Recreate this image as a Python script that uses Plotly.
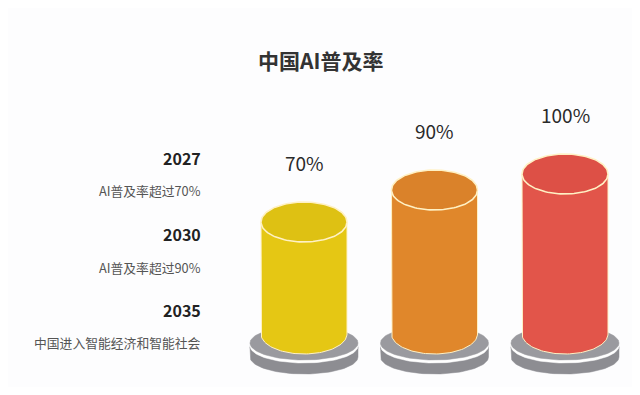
import numpy as np
import plotly.graph_objects as go

# ---- data ----
title = "中国AI普及率"
categories = ["2027", "2030", "2035"]
values = [70, 90, 100]
value_labels = ["70%", "90%", "100%"]
milestone_years = ["2027", "2030", "2035"]
milestone_texts = ["AI普及率超过70%", "AI普及率超过90%", "中国进入智能经济和智能社会"]

body_colors = ["#e5c714", "#e0872b", "#e2554a"]
top_colors = ["#dec113", "#da822a", "#dd5046"]
rim_color = "#fff1c4"

# ---- layout (page has an 8px body margin, so the figure is inset) ----
OFF = 8
W, H = 640 - 2 * OFF, 395 - 2 * OFF
PX_X = 130.5
PX_Y = 1.6
x0_px = 304 - OFF
zero_px = 334 - OFF
x_range = [-x0_px / PX_X, (W - x0_px) / PX_X]
y_hi = zero_px / PX_Y
y_range = [y_hi - H / PX_Y, y_hi]

t = np.linspace(0, 2 * np.pi, 121)


def ellipse(cx, cy, rx_px, ry_px):
    rx = rx_px / PX_X
    ry = ry_px / PX_Y
    return cx + rx * np.cos(t), cy + ry * np.sin(t)


def cyl_side(cx, y_bot, y_top, rx_px, ry_px):
    rx = rx_px / PX_X
    ry = ry_px / PX_Y
    tb = np.linspace(np.pi, 2 * np.pi, 61)
    xs = [cx - rx, cx - rx] + list(cx + rx * np.cos(tb)) + [cx + rx, cx - rx]
    ys = [y_top, y_bot] + list(y_bot + ry * np.sin(tb)) + [y_top, y_top]
    return xs, ys


fig = go.Figure()


def add_shape(xs, ys, fill, line_color=None, line_width=0):
    fig.add_trace(go.Scatter(
        x=list(xs), y=list(ys), mode="lines", fill="toself",
        fillcolor=fill,
        line=dict(color=line_color or fill, width=line_width if line_width else 0.5),
        hoverinfo="skip", showlegend=False))


for i, v in enumerate(values):
    cx = i
    lo_top = -13 / PX_Y
    lo_bot = -23 / PX_Y
    xs, ys = cyl_side(cx, lo_bot, lo_top, 54, 17)
    add_shape(xs, ys, "#8d8d92")
    xs, ys = ellipse(cx, lo_top, 54, 17)
    add_shape(xs, ys, "#8d8d92")
    xs, ys = ellipse(cx, -12 / PX_Y, 54, 17)
    add_shape(xs, ys, "#ffffff")
    xs, ys = ellipse(cx, -9 / PX_Y, 54, 17)
    add_shape(xs, ys, "#9a9a9f")
    xs, ys = cyl_side(cx, 0, v, 43, 20)
    add_shape(xs, ys, body_colors[i], rim_color, 1)
    xs, ys = ellipse(cx, v, 43, 20)
    add_shape(xs, ys, top_colors[i], rim_color, 1.6)

annotations = []
for i, v in enumerate(values):
    annotations.append(dict(
        x=i, y=v, xref="x", yref="y", text=value_labels[i],
        showarrow=False, yshift=60, yanchor="middle", xanchor="center",
        font=dict(family="Noto Sans CJK SC", size=19, color="#2a2a2a")))

year_y = [157.5, 234, 310]
text_y = [190, 267, 342]
text_right = 203
for yr, tx, yy, ty in zip(milestone_years, milestone_texts, year_y, text_y):
    annotations.append(dict(
        x=(text_right - OFF) / W, y=1 - (yy - OFF) / H, xref="paper", yref="paper",
        text="<b>" + yr + "</b>",
        showarrow=False, xanchor="right", yanchor="middle",
        font=dict(family="Noto Sans CJK SC", size=16, color="#222222")))
    annotations.append(dict(
        x=(text_right - OFF) / W, y=1 - (ty - OFF) / H, xref="paper", yref="paper",
        text=tx,
        showarrow=False, xanchor="right", yanchor="middle",
        font=dict(family="Noto Sans CJK SC", size=12.8, color="#555555")))

annotations.append(dict(
    x=(320 - OFF) / W, y=1 - (60 - OFF) / H, xref="paper", yref="paper",
    text="<b>" + title + "</b>",
    showarrow=False, xanchor="center", yanchor="middle",
    font=dict(family="Noto Sans CJK SC", size=21, color="#333333")))

fig.update_layout(
    width=W, height=H,
    margin=dict(l=0, r=0, t=0, b=0),
    paper_bgcolor="#fdfdfe", plot_bgcolor="#fdfdfe",
    xaxis=dict(range=x_range, visible=False, fixedrange=True),
    yaxis=dict(range=y_range, visible=False, fixedrange=True),
    annotations=annotations,
    showlegend=False,
)

fig.write_html("out.html")
